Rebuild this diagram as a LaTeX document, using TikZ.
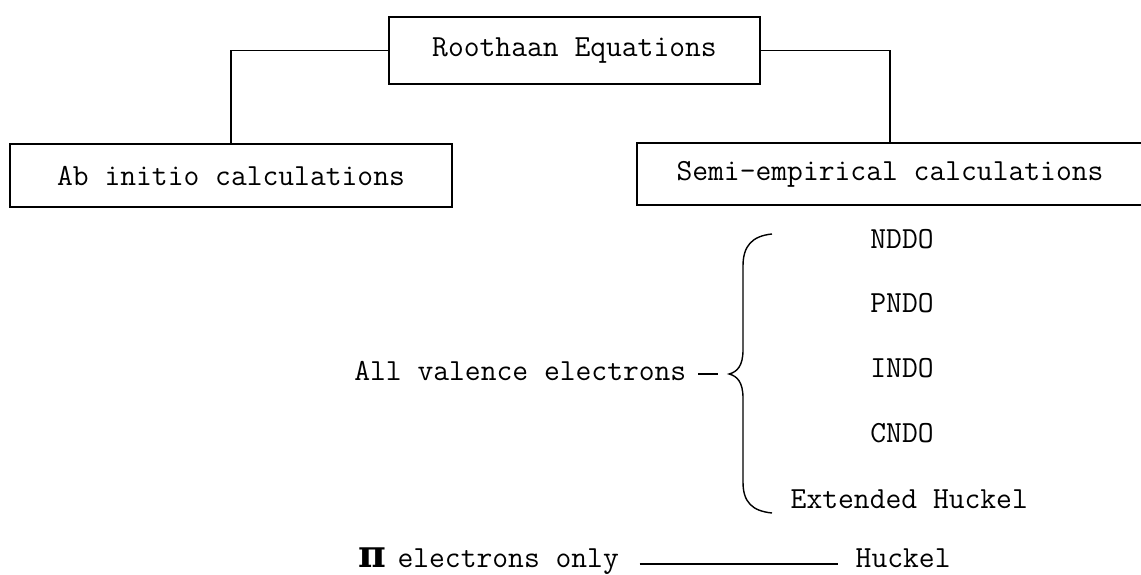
\documentclass[tikz,border=0pt]{standalone}
\usepackage{fontspec}
\usepackage{amsmath}
\usepackage{tikz}
\usetikzlibrary{positioning}
\newfontfamily\pifont{DejaVu Serif}
\newcommand{\typewr}{\fontsize{30.7}{36}\selectfont\ttfamily}

\begin{document}
\begin{tikzpicture}[x=1pt, y=-1pt, line width=1.4pt,
  box/.style={draw, inner sep=0pt, font=\typewr},
  lbl/.style={inner sep=0pt, font=\typewr}]
  \useasboundingbox (0,0) rectangle (1141,575);

  % Top box and the two branches
  \node[box, minimum width=371pt, minimum height=67pt] (root) at (574.5,50.5) {Roothaan Equations};
  \node[box, minimum width=442pt, minimum height=63pt] (abinit) at (231,175.5) {Ab initio calculations};
  \node[box, minimum width=506pt, minimum height=62pt] (semi) at (890,174) {Semi-empirical calculations};
  \draw (root.west) -| (abinit.north);
  \draw (root.east) -| (semi.north);

  % All valence electrons: brace with five methods
  \node[lbl, anchor=base east] (valence) at (687,380) {All valence electrons};
  \coordinate (tip) at (729,374);
  \draw (772,234) .. controls (752,236) and (743,246) .. (743,266) -- (743,350)
        .. controls (743,366) and (737,372) .. (tip)
        .. controls (737,376) and (743,382) .. (743,398) -- (743,482)
        .. controls (743,502) and (752,511) .. (772,513);
  \draw[shorten <=11pt, shorten >=11pt] ([yshift=6pt]valence.base east) -- (tip);
  \node[lbl, anchor=base] (nddo) at (902,248) {NDDO};
  \node[lbl, anchor=base] (pndo) at (902,312) {PNDO};
  \node[lbl, anchor=base] (indo) at (902,377) {INDO};
  \node[lbl, anchor=base] (cndo) at (902,442) {CNDO};
  \node[lbl, anchor=base west] (exthuckel) at (790,508) {Extended Huckel};

  % Pi electrons only
  \node[lbl, anchor=base west] (pielec) at (358,567)
    {{\fontsize{38}{38}\selectfont\pifont\bfseries π}\hspace{11pt}electrons only};
  \node[lbl, anchor=base west] (huckel) at (855,567) {Huckel};
  \draw[shorten <=20pt, shorten >=17pt] ([yshift=3pt]pielec.base east) -- ([yshift=3pt]huckel.base west);
\end{tikzpicture}
\end{document}
